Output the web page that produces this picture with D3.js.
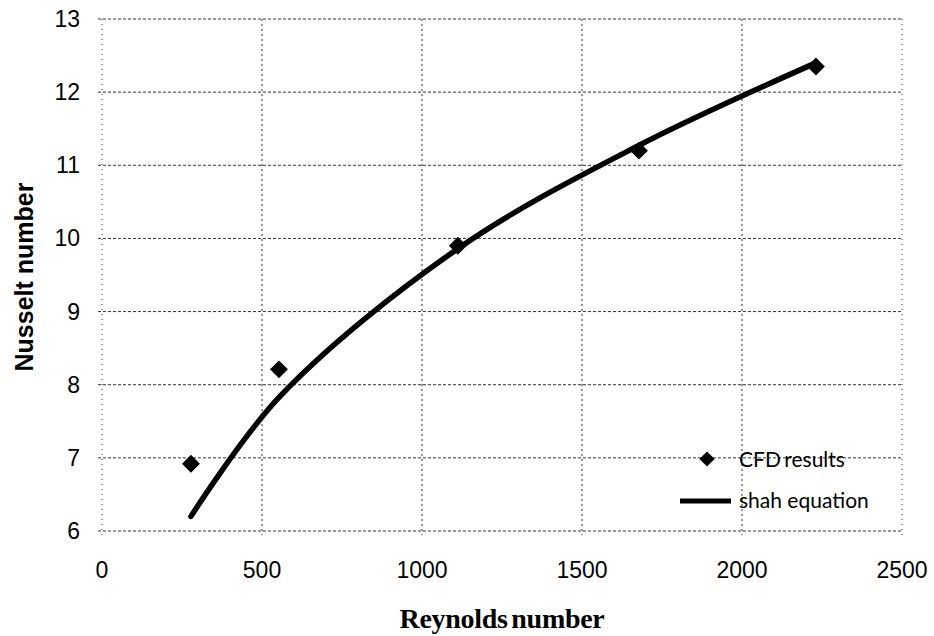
<!DOCTYPE html>
<html>
<head>
<meta charset="utf-8">
<script src="https://cdn.jsdelivr.net/npm/d3@7"></script>
<style>
  body { margin: 0; background: #fff; }
  svg { display: block; }
</style>
</head>
<body>
<svg id="svg" width="934" height="636"></svg>
<script>
// CFD results (diamonds)
const cfdRe = [278, 553, 1112, 1678, 2231];
const cfdNu = [6.92, 8.21, 9.90, 11.20, 12.35];
// shah equation curve
const shahRe = [278, 556, 1112, 1668, 2231];
const shahNu = [6.20, 7.84, 9.86, 11.25, 12.40];
const xTicks = [0, 500, 1000, 1500, 2000, 2500];
const yTicks = [6, 7, 8, 9, 10, 11, 12, 13];

const svg = d3.select('#svg');
const x = d3.scaleLinear().domain([0, 2500]).range([102, 902]);
const y = d3.scaleLinear().domain([6, 13]).range([531, 19]);

const grid = svg.append('g').attr('stroke', '#333').attr('stroke-width', 1)
  .attr('stroke-dasharray', '3,2').attr('fill', 'none');
grid.selectAll('.h').data(yTicks).enter().append('line')
  .attr('x1', x(0) - 4).attr('x2', x(2500))
  .attr('y1', d => y(d)).attr('y2', d => y(d));
grid.selectAll('.v').data(xTicks).enter().append('line')
  .attr('x1', d => x(d)).attr('x2', d => x(d))
  .attr('y1', y(13)).attr('y2', y(6) + 4)
  .attr('stroke-dasharray', d => (d === 0 || d === 2500) ? '1,4' : '2,3');

// tick labels
svg.append('g').selectAll('text').data(yTicks).enter().append('text')
  .attr('x', 80).attr('y', d => y(d) + 8)
  .attr('text-anchor', 'end')
  .style('font', '23px "Liberation Sans", Arial, sans-serif')
  .text(d => d);
svg.append('g').selectAll('text').data(xTicks).enter().append('text')
  .attr('x', d => x(d)).attr('y', 578)
  .attr('text-anchor', 'middle')
  .style('font', '23px "Liberation Sans", Arial, sans-serif')
  .text(d => d);

// axis titles
svg.append('text')
  .attr('transform', 'translate(33,277) rotate(-90)')
  .attr('text-anchor', 'middle')
  .style('font', 'bold 25px "Liberation Sans", Arial, sans-serif')
  .text('Nusselt number');
svg.append('text')
  .attr('x', 502).attr('y', 628)
  .attr('text-anchor', 'middle')
  .style('font', 'bold 28px "Liberation Serif", "Times New Roman", serif')
  .style('word-spacing', '-3px')
  .style('letter-spacing', '-0.3px')
  .text('Reynolds number');

// shah equation line
const line = d3.line().x(d => x(d[0])).y(d => y(d[1])).curve(d3.curveCatmullRom);
svg.append('path')
  .datum(d3.zip(shahRe, shahNu))
  .attr('d', line)
  .attr('fill', 'none')
  .attr('stroke', '#000')
  .attr('stroke-width', 5.5)
  .attr('stroke-linecap', 'round');

// CFD diamonds
const diamond = d3.symbol().type(d3.symbolSquare).size(160);
svg.append('g').selectAll('path').data(d3.zip(cfdRe, cfdNu)).enter().append('path')
  .attr('d', diamond)
  .attr('transform', d => `translate(${x(d[0])},${y(d[1])}) rotate(45)`)
  .attr('fill', '#000');

// legend
const leg = svg.append('g');
leg.append('path').attr('d', diamond)
  .attr('transform', 'translate(707,459) rotate(45) scale(0.85)')
  .attr('fill', '#000');
leg.append('text').attr('x', 739).attr('y', 467)
  .style('font', '21px Lato, "Open Sans", sans-serif')
  .style('word-spacing', '-2px')
  .text('CFD results');
leg.append('line').attr('x1', 680).attr('x2', 731).attr('y1', 501).attr('y2', 501)
  .attr('stroke', '#000').attr('stroke-width', 5);
leg.append('text').attr('x', 739).attr('y', 508)
  .style('font', '21px Lato, "Open Sans", sans-serif')
  .text('shah equation');
</script>
</body>
</html>
